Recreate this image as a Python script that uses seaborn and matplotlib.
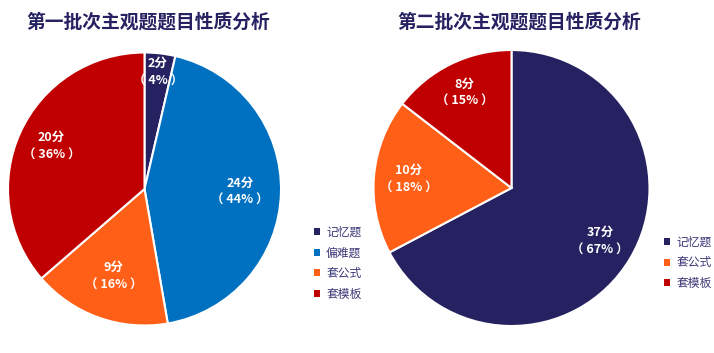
import numpy as np
import seaborn as sns
import matplotlib.pyplot as plt
from matplotlib.patches import Patch

# data
left_title = '第一批次主观题题目性质分析'
left_cats = ['记忆题', '偏难题', '套公式', '套模板']
left_vals = [2, 24, 9, 20]
left_pcts = ['4%', '44%', '16%', '36%']

right_title = '第二批次主观题题目性质分析'
right_cats = ['记忆题', '套公式', '套模板']
right_vals = [37, 10, 8]
right_pcts = ['67%', '18%', '15%']

palette = {'记忆题': '#262262', '偏难题': '#0070C0', '套公式': '#FF5F17', '套模板': '#C00000'}
title_color = '#262262'
legend_color = '#3C3A78'

sns.set_theme(style='white')
plt.rcParams['font.family'] = ['Noto Sans CJK SC', 'DejaVu Sans']


def draw_pie(ax, cats, vals, pcts, dists):
    colors = [palette[c] for c in cats]
    wedges, _ = ax.pie(vals, colors=colors, startangle=90, counterclock=False,
                       wedgeprops=dict(edgecolor='white', linewidth=1.5))
    for w, v, p, d in zip(wedges, vals, pcts, dists):
        mid = np.deg2rad((w.theta1 + w.theta2) / 2)
        ax.text(d * np.cos(mid), d * np.sin(mid), f'{v}分\n（ {p} ）',
                ha='center', va='center', color='white', fontsize=9,
                fontweight='bold', linespacing=1.45)
    ax.set_xlim(-1, 1)
    ax.set_ylim(-1, 1)
    ax.set_aspect('equal')
    ax.axis('off')
    return wedges


fig = plt.figure(figsize=(7.14, 3.53), dpi=100)
ax1 = fig.add_axes([8 / 714, 27 / 353, 273 / 714, 274 / 353])
ax2 = fig.add_axes([373 / 714, 27 / 353, 277 / 714, 276 / 353])

draw_pie(ax1, left_cats, left_vals, left_pcts, [0.86, 0.70, 0.68, 0.75])
draw_pie(ax2, right_cats, right_vals, right_pcts, [0.75, 0.75, 0.77])

fig.text(148 / 714, 1 - 22 / 353, left_title, ha='center', va='center',
         fontsize=13.5, fontweight='bold', color=title_color)
fig.text(519 / 714, 1 - 22 / 353, right_title, ha='center', va='center',
         fontsize=13.5, fontweight='bold', color=title_color)


def add_legend(cats, x, y):
    handles = [Patch(facecolor=palette[c], edgecolor='none') for c in cats]
    leg = fig.legend(handles, cats, loc='upper left', bbox_to_anchor=(x, y),
                     frameon=False, fontsize=8.5, handlelength=0.55, handleheight=0.55,
                     handletextpad=0.5, labelspacing=0.65, borderaxespad=0)
    for t in leg.get_texts():
        t.set_color(legend_color)


add_legend(left_cats, 309 / 714, 1 - 221 / 353)
add_legend(right_cats, 659 / 714, 1 - 231 / 353)

fig.savefig('out.png', dpi=100)
